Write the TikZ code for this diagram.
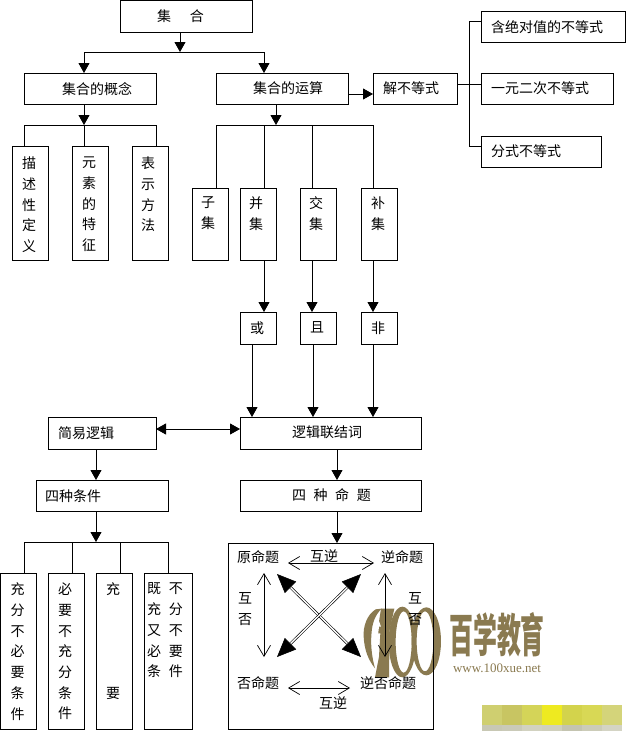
\documentclass[tikz,border=0pt]{standalone}
\usepackage{fontspec}
\setmainfont{Noto Sans CJK SC}
\newfontfamily\wwwfont{Liberation Serif}
\usetikzlibrary{arrows.meta}
\definecolor{logobrown}{HTML}{8A7A50}
\tikzset{
  box/.style={draw=black,line width=0.9pt,inner sep=0pt,outer sep=0pt,anchor=north west},
  plain/.style={inner sep=0pt,font=\fontsize{14}{16}\selectfont},
  conn/.style={draw=black,line width=0.9pt},
  solidtip/.style={conn,-{Triangle[length=10pt,width=11pt]}},
  bothtip/.style={conn,{Triangle[length=10pt,width=11pt]}-{Triangle[length=10pt,width=11pt]}},
  opentip/.style={draw=black,line width=0.7pt,{Straight Barb[length=11pt,width=13pt,line width=0.7pt]}-{Straight Barb[length=11pt,width=13pt,line width=0.7pt]}},
  diagtip/.style={draw=black,double,double distance=1.4pt,line width=0.6pt,{Triangle[length=19pt,width=16pt]}-{Triangle[length=19pt,width=16pt]}}
}
\newcommand\bx[8]{%
  \pgfmathsetmacro\bw{#4-#2}\pgfmathsetmacro\bh{#5-#3}%
  \node[box,minimum width=\bw pt,minimum height=\bh pt] (#1) at (#2,#3)
  {\parbox[t][\bh pt][t]{\bw pt}{\fontsize{14}{20.7}\selectfont\leftskip=#6pt\parindent=0pt\vspace*{#7pt}#8\par}};}
\hbadness=10000 \hfuzz=100pt \vfuzz=100pt \vbadness=10000
\begin{document}
\begin{tikzpicture}[x=1pt,y=-1pt]
\useasboundingbox (0,0) rectangle (627,731);
\fill[white] (0,0) rectangle (627,731);
% watermark logo
\begin{scope}[shift={(355,600)},x=0.3333pt,y=-0.3333pt]
  \fill[logobrown,even odd rule] (142,126) ellipse [x radius=41,y radius=106] (146,126) ellipse [x radius=24,y radius=92];
  \fill[logobrown,even odd rule] (214,124) ellipse [x radius=44,y radius=102] (210,124) ellipse [x radius=25,y radius=90];
  \fill[logobrown] (62,28) .. controls (35,45) and (24,80) .. (26,110) .. controls (28,150) and (40,180) .. (60,205) .. controls (50,170) and (46,130) .. (50,95) .. controls (52,70) and (60,45) .. (80,26) -- cycle;
  \fill[logobrown] (78,26) -- (118,26) -- (104,90) -- (102,232) -- (60,232) -- (72,170) -- (76,100) -- (62,100) -- (70,78) -- cycle;
  \fill[white] (68,52) -- (78,80) -- (72,80) -- (66,130) -- (58,130) -- (62,80) -- (55,80) -- cycle;
\end{scope}
\node[inner sep=0pt,font=\fontsize{46}{48}\selectfont\bfseries,text=logobrown,xscale=0.52] (logotext) at (497,635) {百学教育};
\node[inner sep=0pt,font=\wwwfont\fontsize{13}{15}\selectfont,text=logobrown] (logourl) at (497,668) {www.100xue.net};
% mosaic
\foreach \xa/\c in {482/CFCF70,502/C8C562,522/D4D458,542/EEEA20,562/D3D34C,582/D8D855,602/D4D47A}{
  \definecolor{mc}{HTML}{\c}\fill[mc] (\xa,705) rectangle (\xa+20,725);}
\foreach \xa/\c in {482/C8C8B4,502/CACAB8,522/D2D2C0,542/D0D0BC,562/C4C4B0,582/CCCCB8,602/D4D4C4}{
  \definecolor{mc}{HTML}{\c}\fill[mc] (\xa,725) rectangle (\xa+20,731);}
% boxes
\bx{top}{120}{0.5}{252}{32}{37}{9}{集\hspace{19pt}合}
\bx{gn}{24}{73}{156}{104}{38}{9}{集合的概念}
\bx{ys}{216}{73}{348}{104}{37}{9}{集合的运算}
\bx{jb}{373}{73}{457}{104}{10}{9}{解不等式}
\bx{i1}{481}{11}{625}{42}{10}{10}{含绝对值的不等式}
\bx{i2}{481}{73}{613}{104}{10}{9}{一元二次不等式}
\bx{i3}{481}{136}{601}{167}{10}{9}{分式不等式}
\bx{d1}{12}{146}{48}{260}{10}{11}{描\\述\\性\\定\\义}
\bx{d2}{72}{146}{108}{260}{10}{11}{元\\素\\的\\特\\征}
\bx{d3}{132}{146}{168}{260}{9}{11}{表\\示\\方\\法}
\bx{s1}{192}{188}{228}{260}{9}{9}{子\\集}
\bx{s2}{240}{188}{276}{260}{9}{9}{并\\集}
\bx{s3}{300}{188}{336}{260}{9}{9}{交\\集}
\bx{s4}{361}{188}{397}{260}{10}{9}{补\\集}
\bx{l1}{240}{312}{276}{344}{10}{10}{或}
\bx{l2}{300}{312}{336}{344}{10}{10}{且}
\bx{l3}{361}{312}{397}{344}{10}{10}{非}
\bx{jy}{48}{417}{156}{449}{10}{10}{简易逻辑}
\bx{lj}{240}{417}{421}{449}{52}{9}{逻辑联结词}
\bx{sc}{36}{480}{168}{511}{9}{10}{四种条件}
\bx{sm}{240}{480}{421}{511}{52}{9}{四\hspace{7.6pt}种\hspace{7.6pt}命\hspace{7.6pt}题}
\bx{c1}{0.5}{573}{36}{729}{10}{10}{充\\分\\不\\必\\要\\条\\件}
\bx{c2}{48}{573}{84}{729}{10}{10}{必\\要\\不\\充\\分\\条\\件}
\bx{c3}{96}{573}{132}{729}{10}{10}{充\\~\\~\\~\\~\\要}
\bx{c4}{144}{573}{192}{729}{3}{10}{既\hspace{8pt}不\\充\hspace{8pt}分\\又\hspace{8pt}不\\必\hspace{8pt}要\\条\hspace{8pt}件}
\node[box,minimum width=205pt,minimum height=186pt] (big) at (228,543) {};
% junction coordinates
\coordinate (j1) at (180,52);
\coordinate (ja) at (84,52);
\coordinate (jb2) at (264,52);
\coordinate (j2) at (84,125);
\coordinate (j3) at (276,125);
\coordinate (j4) at (96,542);
\coordinate (j5) at (469,84);
% top
\draw[solidtip] (j1 |- top.south) -- (j1);
\draw[solidtip] (j1) -- (ja) -- (ja |- gn.north);
\draw[solidtip] (j1) -- (jb2) -- (jb2 |- ys.north);
% concept
\draw[solidtip] (j2 |- gn.south) -- (j2);
\draw[conn] (d1.north -| gn.west) -- (j2 -| gn.west) -- (j2 -| gn.east) -- (d3.north -| gn.east);
\draw[conn] (j2) -- (d2.north -| j2);
% operations
\draw[solidtip] (j3 |- ys.south) -- (j3);
\draw[conn] (s1.north -| ys.west) -- (j3 -| ys.west) -- (j3 -| jb.west) -- (s4.north -| jb.west);
\coordinate (x2) at (264,125);\coordinate (x3) at (312,125);\coordinate (x4) at (373,125);
\draw[conn] (x2) -- (x2 |- s2.north);
\draw[conn] (x3) -- (x3 |- s3.north);
% set -> logic word
\draw[solidtip] (x2 |- s2.south) -- (x2 |- l1.north);
\draw[solidtip] (x3 |- s3.south) -- (x3 |- l2.north);
\draw[solidtip] (x4 |- s4.south) -- (x4 |- l3.north);
\coordinate (y1) at (252,344);\coordinate (y2) at (313,344);
\draw[solidtip] (y1) -- (y1 |- lj.north);
\draw[solidtip] (y2) -- (y2 |- lj.north);
\draw[solidtip] (x4 |- l3.south) -- (x4 |- lj.north);
% solve
\coordinate (h1) at (0,94);
\draw[solidtip] (h1 -| ys.east) -- (h1 -| jb.west);
\draw[conn] (jb.east |- j5) -- (i2.west |- j5);
\draw[conn] (i1.west |- 0,21) -- (j5 |- 0,21) -- (j5 |- 0,146) -- (i3.west |- 0,146);
% logic
\coordinate (m) at (0,429);
\draw[bothtip] (m -| jy.east) -- (m -| lj.west);
\draw[solidtip] (j4 |- jy.south) -- (j4 |- sc.north);
\draw[solidtip] (j4 |- sc.south) -- (j4);
\coordinate (q) at (337,449);
\draw[solidtip] (q) -- (q |- sm.north);
\draw[solidtip] (q |- sm.south) -- (q |- big.north);
\coordinate (b1) at (24,542);\coordinate (b2) at (72,542);\coordinate (b3) at (120,542);\coordinate (b4) at (168,542);
\draw[conn] (b1 |- c1.north) -- (b1) -- (b4) -- (b4 |- c4.north);
\draw[conn] (b2) -- (b2 |- c2.north);
\draw[conn] (b3) -- (b3 |- c3.north);
% propositions
\node[plain] (p1) at (258,557) {原命题};
\node[plain] (p2) at (402,557) {逆命题};
\node[plain] (p3) at (258,683) {否命题};
\node[plain] (p4) at (388,683) {逆否命题};
\node[plain] (t1) at (324,556) {互逆};
\node[plain] (t2) at (333,703) {互逆};
\node[plain] (t3) at (245,598) {互};
\node[plain] (t4) at (245,620) {否};
\node[plain] (t5) at (415,598) {互};
\node[plain] (t6) at (415,620) {否};
\coordinate (a1) at (288,563);\coordinate (a2) at (374,563);
\coordinate (a3) at (288,688);\coordinate (a4) at (350,688);
\coordinate (a5) at (264,573);\coordinate (a6) at (264,657);
\coordinate (a7) at (385,573);\coordinate (a8) at (385,657);
\coordinate (e1) at (277,574);\coordinate (e2) at (361,657);
\coordinate (e3) at (361,574);\coordinate (e4) at (277,657);
\draw[opentip] (a1) -- (a2);
\draw[opentip] (a3) -- (a4);
\draw[opentip] (a5) -- (a6);
\draw[opentip] (a7) -- (a8);
\draw[diagtip] (e1) -- (e2);
\draw[diagtip] (e3) -- (e4);
\end{tikzpicture}
\end{document}
